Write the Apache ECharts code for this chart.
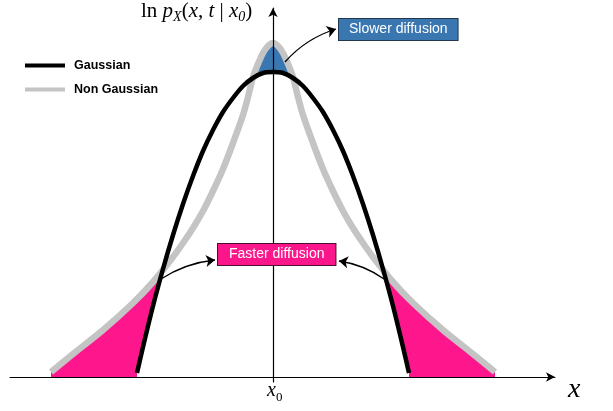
<!DOCTYPE html>
<html>
<head>
<meta charset="utf-8">
<script src="https://cdn.jsdelivr.net/npm/echarts/dist/echarts.min.js"></script>
<style>
html, body { margin: 0; padding: 0; background: #fff; }
#main { width: 613px; height: 411px; }
</style>
</head>
<body>
<div id="main"></div>
<script>
// Gaussian (black parabola in log scale)
var gaussX = [-1.36, -1.3, -1.2, -1.1, -1.0, -0.9, -0.8, -0.7, -0.6, -0.5, -0.4, -0.3, -0.2, -0.1, 0,
              0.1, 0.2, 0.3, 0.4, 0.5, 0.6, 0.7, 0.8, 0.9, 1.0, 1.1, 1.2, 1.3, 1.36];
var gaussY = [0.04, 0.30, 0.71, 1.08, 1.42, 1.73, 2.01, 2.26, 2.47, 2.65, 2.79, 2.91, 2.99, 3.04, 3.05,
              3.04, 2.99, 2.91, 2.79, 2.65, 2.47, 2.26, 2.01, 1.73, 1.42, 1.08, 0.71, 0.30, 0.04];

// Non Gaussian (grey, sharper peak and heavier tails)
var nonGaussX = [-2.22, -2.0, -1.7, -1.4, -1.2, -1.0, -0.9, -0.8, -0.7, -0.6, -0.5, -0.4, -0.3, -0.25, -0.2, -0.15, -0.1, -0.05, 0,
                 0.05, 0.1, 0.15, 0.2, 0.25, 0.3, 0.4, 0.5, 0.6, 0.7, 0.8, 0.9, 1.0, 1.2, 1.4, 1.7, 2.0, 2.22];
var nonGaussY = [0.05, 0.23, 0.47, 0.74, 0.95, 1.20, 1.34, 1.49, 1.66, 1.86, 2.08, 2.34, 2.62, 2.80, 3.00, 3.13, 3.24, 3.31, 3.34,
                 3.31, 3.24, 3.13, 3.00, 2.80, 2.62, 2.34, 2.08, 1.86, 1.66, 1.49, 1.34, 1.20, 0.95, 0.74, 0.47, 0.23, 0.05];

// arrows: [fromX, fromY, toX, toY, curveness]
var arrows = [
    [0.12, 3.15, 0.63, 3.48, 0.14],
    [-1.12, 0.98, -0.58, 1.17, 0.12],
    [1.11, 0.98, 0.66, 1.16, -0.12]
];

var pairs = function(xs, ys) {
    var out = [];
    for (var i = 0; i < xs.length; i++) out.push([xs[i], ys[i]]);
    return out;
};
var between = function(data, lo, hi) {
    return data.filter(function(p) { return p[0] >= lo && p[0] <= hi; });
};

var gauss = pairs(gaussX, gaussY);
var nonGauss = pairs(nonGaussX, nonGaussY);

var fillSeries = function(name, data, color) {
    return {
        name: name, type: 'line', data: data, smooth: 0.3, symbol: 'none', silent: true,
        lineStyle: { opacity: 0 },
        areaStyle: { color: color, opacity: 1 }
    };
};

var serif = '"Liberation Serif", "DejaVu Serif", serif';
var sans = '"Liberation Sans", Arial, sans-serif';

var chart = echarts.init(document.getElementById('main'));
var option = {
    animation: false,
    grid: { left: 10, right: 58, top: 8, bottom: 29 },
    xAxis: {
        type: 'value', min: -2.63, max: 2.82, z: 5,
        axisLine: { onZero: true, symbol: ['none', 'arrow'], symbolSize: [7, 9], lineStyle: { color: '#000', width: 1.2 } },
        axisTick: { show: false }, axisLabel: { show: false }, splitLine: { show: false }
    },
    yAxis: {
        type: 'value', min: -0.05, max: 3.69, z: 5,
        axisLine: { onZero: true, symbol: ['none', 'arrow'], symbolSize: [7, 9], lineStyle: { color: '#000', width: 1.2 } },
        axisTick: { show: false }, axisLabel: { show: false }, splitLine: { show: false }
    },
    legend: {
        data: [{ name: 'Gaussian', icon: 'rect' }, { name: 'Non Gaussian', icon: 'rect' }],
        orient: 'vertical', left: 20, top: 54,
        itemWidth: 40, itemHeight: 4, itemGap: 11,
        textStyle: { fontFamily: sans, fontWeight: 'bold', fontSize: 12.5, color: '#000', padding: [0, 0, 0, 4] }
    },
    graphic: [
        {
            type: 'text', left: 141, top: 1, z: 100,
            style: {
                text: '{n|ln }{i|p}{s|X}{n|(}{i|x}{n|, }{i|t}{n| | }{i|x}{s|0}{n|)}',
                rich: {
                    n: { fontFamily: serif, fontSize: 21, lineHeight: 25, fill: '#000' },
                    i: { fontFamily: serif, fontSize: 21, fontStyle: 'italic', lineHeight: 25, fill: '#000' },
                    s: { fontFamily: serif, fontSize: 14, fontStyle: 'italic', verticalAlign: 'bottom', lineHeight: 25, fill: '#000' }
                }
            }
        },
        {
            type: 'text', left: 267, top: 381, z: 100,
            style: {
                text: '{i|x}{s|0}',
                rich: {
                    i: { fontFamily: serif, fontSize: 20, fontStyle: 'italic', lineHeight: 22, fill: '#000' },
                    s: { fontFamily: serif, fontSize: 13, verticalAlign: 'bottom', lineHeight: 26, fill: '#000' }
                }
            }
        },
        {
            type: 'text', left: 568, top: 376, z: 100,
            style: { text: 'x', fontFamily: serif, fontSize: 28, fontStyle: 'italic', fill: '#000' }
        },
        {
            type: 'text', left: 338, top: 18, z: 100,
            style: {
                text: 'Slower diffusion', fontFamily: sans, fontSize: 14, lineHeight: 15, fill: '#fff',
                backgroundColor: '#3a77b1', borderColor: '#22364d', borderWidth: 1, padding: [3, 10, 3, 10]
            }
        },
        {
            type: 'text', left: 217, top: 243, z: 100,
            style: {
                text: 'Faster diffusion', fontFamily: sans, fontSize: 14, lineHeight: 15, fill: '#fff',
                backgroundColor: '#fc168c', borderColor: '#4a1030', borderWidth: 1, padding: [3, 11, 3, 11]
            }
        }
    ],
    series: [
        fillSeries('tailLeft', between(nonGauss, -3, -1.0), '#fd168c'),
        fillSeries('tailRight', between(nonGauss, 1.0, 3), '#fd168c'),
        fillSeries('peak', between(nonGauss, -0.25, 0.25), '#3a77b1'),
        fillSeries('cover', gauss, '#fff'),
        {
            name: 'Non Gaussian', type: 'line', data: nonGauss, smooth: 0.3, symbol: 'none',
            color: '#c4c4c4',
            lineStyle: { color: '#c4c4c4', width: 6.5 }
        },
        {
            name: 'Gaussian', type: 'line', data: gauss, smooth: 0.3, symbol: 'none',
            color: '#000',
            lineStyle: { color: '#000', width: 4.5 }
        },
        {
            name: 'arrows', type: 'lines', coordinateSystem: 'cartesian2d', silent: true, z: 4,
            symbol: ['none', 'arrow'], symbolSize: 9,
            lineStyle: { color: '#000', width: 1.3, opacity: 1 },
            data: arrows.map(function(a) {
                return { coords: [[a[0], a[1]], [a[2], a[3]]], lineStyle: { curveness: a[4] } };
            })
        }
    ]
};
chart.setOption(option);
</script>
</body>
</html>
